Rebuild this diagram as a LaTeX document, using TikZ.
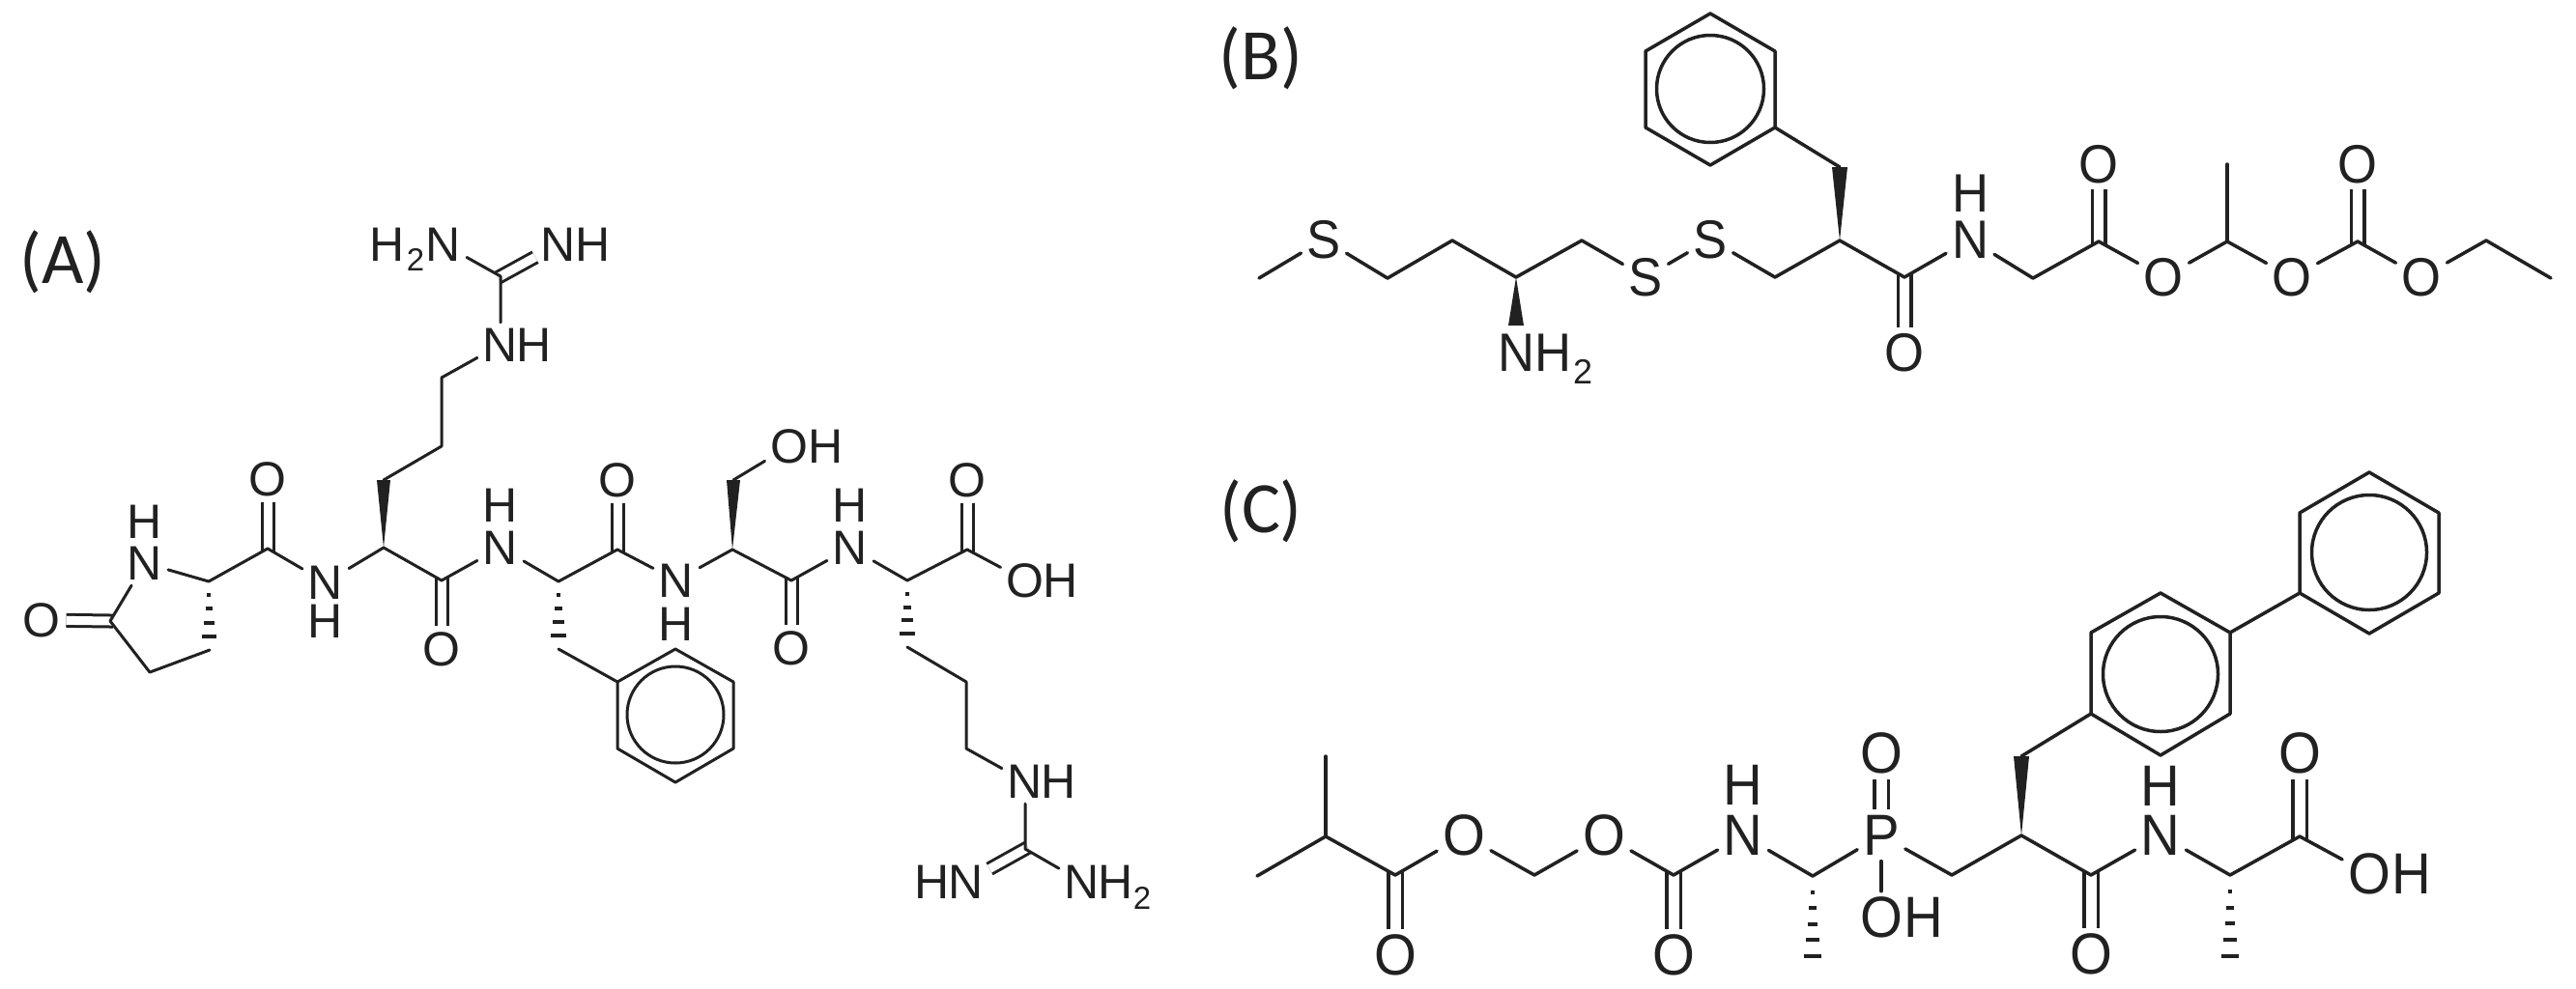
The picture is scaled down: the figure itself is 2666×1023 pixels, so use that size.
\documentclass[tikz,border=0pt]{standalone}
\usepackage{fontspec}
\setmainfont{Liberation Sans}
\newfontfamily\panelfont{Carlito}
\newfontfamily\slimfont[FakeStretch=0.94]{Liberation Sans}
\usetikzlibrary{calc}
\definecolor{bondcol}{gray}{0.13}
\tikzset{
    atom/.style={font=\fontsize{#1}{#1}\selectfont,inner sep=6pt,outer sep=0pt,text=bondcol},
    slimatom/.style={font=\slimfont\fontsize{#1}{#1}\selectfont,inner sep=6pt,outer sep=0pt,text=bondcol},
    subatom/.style={font=\fontsize{#1}{#1}\selectfont,inner sep=0pt},
    panel/.style={font=\panelfont\fontsize{75}{75}\selectfont,inner sep=0pt,text=bondcol},
    bond/.style={draw=bondcol,line cap=round,line join=round},
    dbond/.style={draw=bondcol,double=white,double distance=#1,shorten >=-3pt},
    hashbar/.style={draw=bondcol,line width=4pt}
}
\newcommand{\wedgebond}[3]{\fill[bondcol](#1)--($(#2)+(-#3,0)$)--($(#2)+(#3,0)$)--cycle;}
\newcommand{\hashbond}[4]{\foreach \i in {1,...,#3}{\pgfmathsetmacro{\f}{\i/5}\draw[hashbar]($(#1)!\f!(#2)+({-#4*\f},0)$)--($(#1)!\f!(#2)+({#4*\f},0)$);}}
\begin{document}
\begin{tikzpicture}[x=1pt,y=-1pt]
    \useasboundingbox(0,0)rectangle(2666,1023);
    \node[panel](pa)at(65,271){(A)};
    \node[panel](pb)at(1305,60){(B)};
    \node[panel](pc)at(1305,529){(C)};

    \begin{scope}[line width=3pt,every node/.append style={atom=50}]
    \foreach \n/\x/\y in {ac1/114/643,ac2/216/602,ac3/217/673,ac4/155/696,ac5/277/568,ac6/397/567,ac7/397/497,ac8/457/462,ac9/457/391,ac10/518/286,ac11/457/601,ac12/578/602,ac13/578/672,ac14/639/569,ac15/758/569,ac16/759/497,ac17/819/601,ac18/939/601,ac19/939/670,ac20/1001/569,ac21/1000/706,ac22/1000/775,ac23/1061/879,ar1/699/672,ar2/759/706,ar3/759/775,ar4/699/810,ar5/639/775,ar6/639/706,acen/699/740}
        \coordinate(\n)at(\x,\y);
    \node(ao1)at(43,642){O};
    \node(an1)at(150,583){N};
    \node(ah1)at(150,540){H};
    \node(ao2)at(277,496){O};
    \node(an2)at(337,603){N};
    \node(ah2)at(337,643){H};
    \node(ao3)at(457,672){O};
    \node(an3)at(518,567){N};
    \node(ah3)at(518,523){H};
    \node(ao4)at(639,497){O};
    \node(an4)at(700,601){N};
    \node(ah4)at(700,646){H};
    \node(ao5)at(819,671){O};
    \node(an5)at(880,567){N};
    \node(ah5)at(880,523){H};
    \node(ao6)at(1001,497){O};
    \node(aoh1)at(817,462){O};
    \node(aoh1h)at(855,462){H};
    \node(aoh2)at(1061,601){O};
    \node(aoh2h)at(1098,601){H};
    \node(an6)at(518,357){N};
    \node(an6h)at(553,357){H};
    \node(an7)at(459,253){N};
    \node(an7s)[subatom=33]at(430,269){2};
    \node(an7h)at(401,253){H};
    \node(an8)at(578,253){N};
    \node(an8h)at(614,253){H};
    \node(an9)at(1061,809){N};
    \node(an9h)at(1096,809){H};
    \node(an10)at(1000,913){N};
    \node(an10h)at(965,913){H};
    \node(an11)at(1120,913){N};
    \node(an11h)at(1155,913){H};
    \node(an11s)[subatom=33]at(1182,930){2};
    \draw[dbond=9pt](ao1)--(ac1);
    \draw[dbond=9pt](ao2)--(ac5);
    \draw[dbond=9pt](ao3)--(ac11);
    \draw[dbond=9pt](ao4)--(ac14);
    \draw[dbond=9pt](ao5)--(ac17);
    \draw[dbond=9pt](ao6)--(ac20);
    \draw[dbond=9pt](an8)--(ac10);
    \draw[dbond=9pt](an10)--(ac23);
    \draw[bond](ac1)--(an1)--(ac2)--(ac5)--(an2)--(ac6)--(ac11)--(an3)--(ac12)--(ac14)--(an4)--(ac15)--(ac17)--(an5)--(ac18)--(ac20)--(aoh2);
    \draw[bond](ac1)--(ac4)--(ac3);
    \draw[bond](ac7)--(ac8)--(ac9)--(an6)--(ac10)--(an7);
    \draw[bond](ac16)--(aoh1);
    \draw[bond](ac13)--(ar6);
    \draw[bond](ac19)--(ac21)--(ac22)--(an9)--(ac23)--(an11);
    \draw[bond](ar1)--(ar2)--(ar3)--(ar4)--(ar5)--(ar6)--cycle;
    \draw[bond](acen)circle[radius=50pt];
    \wedgebond{ac6}{ac7}{7}
    \wedgebond{ac15}{ac16}{7}
    \hashbond{ac2}{ac3}{4}{9.5}
    \hashbond{ac12}{ac13}{4}{9.5}
    \hashbond{ac18}{ac19}{4}{9.5}
    \end{scope}

    \begin{scope}[line width=3.5pt,every node/.append style={slimatom=56}]
    \foreach \n/\x/\y in {bc1/1303/288,bc2/1436/288,bc3/1503/249,bc4/1569/287,bc5/1569/337,bc6/1637/249,bc7/1837/287,bc8/1904/249,bc9/1904/173,bc10/1971/287,bc11/2104/288,bc12/2172/250,bc13/2305/250,bc14/2305/170,bc15/2440/250,bc16/2573/249,bc17/2640/288,br1/1770/14,br2/1837/53,br3/1837/132,br4/1770/171,br5/1703/132,br6/1703/53,bcen/1770/92}
        \coordinate(\n)at(\x,\y);
    \node(bs1)at(1370,248){S};
    \node(bs2)at(1703,287){S};
    \node(bs3)at(1770,248){S};
    \node(bn1)at(1569,365){N};
    \node(bn1h)at(1607,365){H};
    \node(bn1s)[subatom=36]at(1638,385){2};
    \node(bn2)at(2039,248){N};
    \node(bn2h)at(2039,200){H};
    \node(bo1)at(1971,365){O};
    \node(bo2)at(2172,170){O};
    \node(bo3)at(2239,287){O};
    \node(bo4)at(2372,287){O};
    \node(bo5)at(2440,170){O};
    \node(bo6)at(2506,287){O};
    \draw[dbond=10pt](bo1)--(bc10);
    \draw[dbond=10pt](bo2)--(bc12);
    \draw[dbond=10pt](bo5)--(bc15);
    \draw[bond](bc1)--(bs1)--(bc2)--(bc3)--(bc4)--(bc6)--(bs2)--(bs3)--(bc7)--(bc8)--(bc10)--(bn2)--(bc11)--(bc12)--(bo3)--(bc13)--(bo4)--(bc15)--(bo6)--(bc16)--(bc17);
    \draw[bond](bc13)--(bc14);
    \draw[bond](bc9)--(br3);
    \draw[bond](br1)--(br2)--(br3)--(br4)--(br5)--(br6)--cycle;
    \draw[bond](bcen)circle[radius=55.5pt];
    \wedgebond{bc4}{bc5}{8}
    \wedgebond{bc8}{bc9}{8}
    \end{scope}

    \begin{scope}[line width=3.5pt,every node/.append style={slimatom=60}]
    \foreach \n/\x/\y in {cc1/1301/907,cc2/1372/866,cc3/1372/783,cc4/1444/906,cc5/1588/906,cc6/1732/906,cc7/1876/907,cc8/1876/990,cc9/2020/906,cc10/2092/865,cc11/2092/783,cc12/2164/906,cc13/2308/906,cc14/2308/990,cc15/2380/866,cr1/2236/614,cr2/2308/655,cr3/2308/739,cr4/2236/782,cr5/2164/739,cr6/2164/655,cs1/2452/489,cs2/2524/531,cs3/2524/614,cs4/2452/656,cs5/2380/614,cs6/2380/531,crcen/2236/698,cscen/2452/572}
        \coordinate(\n)at(\x,\y);
    \node(co1)at(1444,989){O};
    \node(co2)at(1515,865){O};
    \node(co3)at(1660,865){O};
    \node(co4)at(1732,989){O};
    \node(cn1)at(1804,865){N};
    \node(cn1h)at(1804,813){H};
    \node(cp)at(1947,865){P};
    \node(co5)at(1947,780){O};
    \node(co6)at(1947,950){O};
    \node(co6h)at(1991,950){H};
    \node(co7)at(2164,988){O};
    \node(cn2)at(2236,865){N};
    \node(cn2h)at(2236,814){H};
    \node(co8)at(2380,780){O};
    \node(co9)at(2452,905){O};
    \node(co9h)at(2496,905){H};
    \draw[dbond=11pt](co1)--(cc4);
    \draw[dbond=11pt](co4)--(cc6);
    \draw[dbond=11pt,shorten >=0pt](co5)--(cp);
    \draw[dbond=11pt](co7)--(cc12);
    \draw[dbond=11pt](co8)--(cc15);
    \draw[bond](cc1)--(cc2)--(cc4)--(co2)--(cc5)--(co3)--(cc6)--(cn1)--(cc7)--(cp)--(cc9)--(cc10)--(cc12)--(cn2)--(cc13)--(cc15)--(co9);
    \draw[bond](cc2)--(cc3);
    \draw[bond](cp)--(co6);
    \draw[bond](cc11)--(cr5);
    \draw[bond](cr2)--(cs5);
    \draw[bond](cr1)--(cr2)--(cr3)--(cr4)--(cr5)--(cr6)--cycle;
    \draw[bond](cs1)--(cs2)--(cs3)--(cs4)--(cs5)--(cs6)--cycle;
    \draw[bond](crcen)circle[radius=59.5pt];
    \draw[bond](cscen)circle[radius=59.5pt];
    \wedgebond{cc10}{cc11}{8}
    \hashbond{cc7}{cc8}{5}{9}
    \hashbond{cc13}{cc14}{5}{9}
    \end{scope}
\end{tikzpicture}
\end{document}
